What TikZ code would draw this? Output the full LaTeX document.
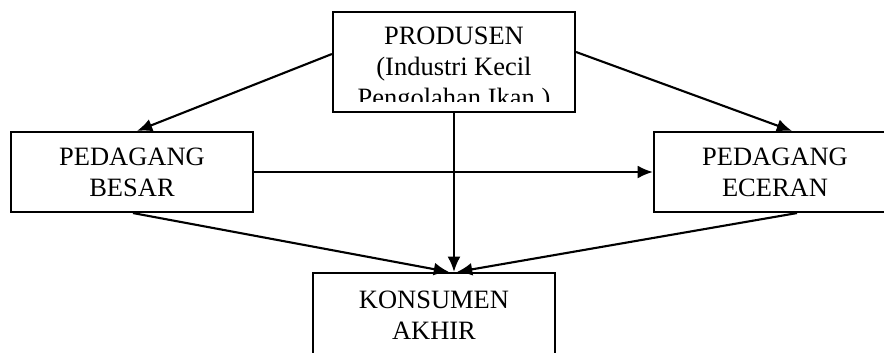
\documentclass[tikz,border=0pt]{standalone}
\usepackage{fontspec}
\setmainfont{Liberation Serif}
\usetikzlibrary{arrows.meta,calc}
\begin{document}
\begin{tikzpicture}[x=0.03cm,y=-0.03cm,
    txt/.style={align=center,inner sep=0pt,font=\fontsize{22.6}{26.5}\selectfont},
    box/.style={txt,shape=rectangle,draw=black,line width=1.8pt,minimum width=7.26cm},
    arr/.style={-{Latex[length=13pt,width=11pt]},line width=1.8pt}]
    \clip (0,0) rectangle (884,352);

    \node[box,minimum height=3cm] (prod) at (454,62) {};
    \begin{scope}
        \clip (336,15) rectangle (572,101);
        \node[txt] (prodtext) at (454,70) {PRODUSEN\\(Industri Kecil\\Pengolahan Ikan )};
    \end{scope}
    \node[box,minimum height=2.4cm] (besar) at (132,172) {PEDAGANG\\BESAR};
    \node[box,minimum height=2.4cm] (eceran) at (775,172) {PEDAGANG\\ECERAN};
    \node[box,minimum height=2.52cm] (konsumen) at (434,315) {KONSUMEN\\AKHIR};

    \path [arr] ($(prod.west)+(0,-8)$) edge ($(besar.north)+(5,0)$);
    \path [arr] ($(prod.east)+(0,-10)$) edge ($(eceran.north)+(17,0)$);
    \path [arr] (prod.south) edge (prod.south |- konsumen.north);
    \path [arr] (besar.east) edge (eceran.west);
    \path [arr] ($(besar.south)+(1,0)$) edge ($(konsumen.north)+(15,0)$);
    \path [arr] ($(eceran.south)+(22,0)$) edge ($(konsumen.north)+(23,0)$);
\end{tikzpicture}
\end{document}
